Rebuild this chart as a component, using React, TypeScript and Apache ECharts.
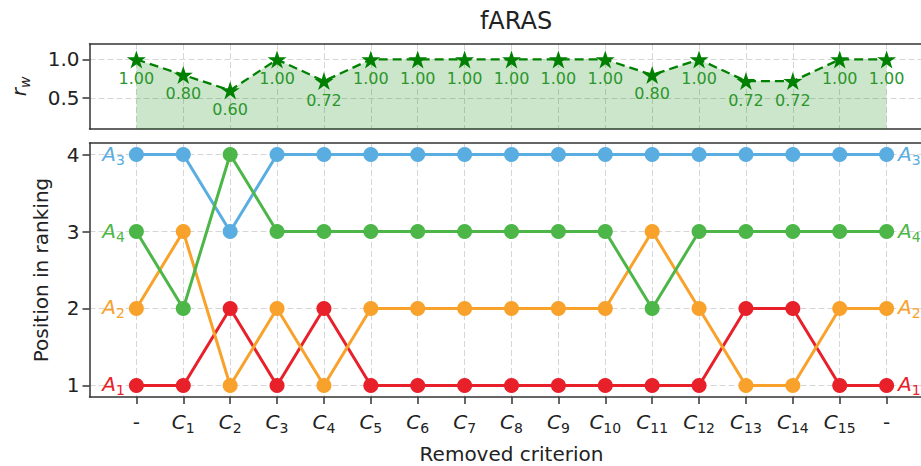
import React, { useEffect, useRef } from 'react';
import * as echarts from 'echarts';

const criteria = ['-', 'C1', 'C2', 'C3', 'C4', 'C5', 'C6', 'C7', 'C8', 'C9', 'C10', 'C11', 'C12', 'C13', 'C14', 'C15', '-'];
const rwValues = [1.0, 0.8, 0.6, 1.0, 0.72, 1.0, 1.0, 1.0, 1.0, 1.0, 1.0, 0.8, 1.0, 0.72, 0.72, 1.0, 1.0];
const rankA1 = [1, 1, 2, 1, 2, 1, 1, 1, 1, 1, 1, 1, 1, 2, 2, 1, 1];
const rankA2 = [2, 3, 1, 2, 1, 2, 2, 2, 2, 2, 2, 3, 2, 1, 1, 2, 2];
const rankA3 = [4, 4, 3, 4, 4, 4, 4, 4, 4, 4, 4, 4, 4, 4, 4, 4, 4];
const rankA4 = [3, 2, 4, 3, 3, 3, 3, 3, 3, 3, 3, 2, 3, 3, 3, 3, 3];
const alternatives = ['A1', 'A2', 'A3', 'A4'];
const altColors = ['#e8202a', '#f8a22c', '#5aade0', '#4cb648'];
const rwTicks = [0.5, 1.0];
const rankTicks = [1, 2, 3, 4];
const xTicks = criteria.map((_, i) => i);

const FONT = 'DejaVu Sans';
const STAR = 'path://M50,0 L61.2,34.5 L97.6,34.5 L68.2,55.9 L79.4,90.5 L50,69.1 L20.6,90.5 L31.8,55.9 L2.4,34.5 L38.8,34.5 Z';

const sub = (name: string) => {
  const m = name.match(/^([A-Za-z])(\d+)$/);
  return m ? `{i|${m[1]}}{s|${m[2]}}` : `{p|${name}}`;
};

const richFor = (color: string) => ({
  i: { fontFamily: FONT, fontStyle: 'italic', fontSize: 20, color, verticalAlign: 'bottom', padding: [0, 0, 3, 0], lineHeight: 24 },
  s: { fontFamily: FONT, fontSize: 14, color, verticalAlign: 'bottom', lineHeight: 24 },
  p: { fontFamily: FONT, fontSize: 20, color, verticalAlign: 'bottom', padding: [0, 0, 3, 0], lineHeight: 24 },
});

export default function App() {
  const ref = useRef<HTMLDivElement>(null);
  useEffect(() => {
    document.body.style.margin = '0';
    if (!ref.current) return;
    const chart = echarts.init(ref.current, null, { renderer: 'svg' });
    const ranks = [rankA1, rankA2, rankA3, rankA4];
    const gridLine = { show: true, lineStyle: { color: '#d6d6d6', type: [6, 3] as any, width: 1 } };
    const frame = { show: true, onZero: false, lineStyle: { color: '#333', width: 1.5 } };
    const tick = { show: true, length: 7, lineStyle: { color: '#333', width: 1.5 } };
    const option: any = {
      animation: false,
      backgroundColor: '#fff',
      title: {
        text: 'fARAS',
        left: 511,
        top: 4,
        textAlign: 'center',
        textStyle: { fontFamily: FONT, fontSize: 24, fontWeight: 'normal', color: '#222' },
      },
      grid: [
        { left: 89.5, top: 44, width: 844, height: 85, show: false, outerBoundsMode: 'none', containLabel: false },
        { left: 89.5, top: 143, width: 844, height: 254, show: false, outerBoundsMode: 'none', containLabel: false },
      ],
      xAxis: [
        {
          type: 'value', gridIndex: 0, min: -1, max: 17, interval: 1, position: 'bottom',
          axisLine: frame, axisTick: { show: false, customValues: xTicks },
          axisLabel: { show: false, customValues: xTicks },
          splitLine: gridLine,
        },
        {
          type: 'value', gridIndex: 0, min: -1, max: 17, position: 'top',
          axisLine: frame, axisTick: { show: false }, axisLabel: { show: false }, splitLine: { show: false },
        },
        {
          type: 'value', gridIndex: 1, min: -1, max: 17, interval: 1, position: 'bottom',
          name: 'Removed criterion', nameLocation: 'middle', nameGap: 47,
          nameTextStyle: { fontFamily: FONT, fontSize: 20, lineHeight: 20, color: '#222' },
          axisLine: frame,
          axisTick: { ...tick, customValues: xTicks },
          axisLabel: {
            show: true, customValues: xTicks, margin: 14,
            formatter: (v: number) => (criteria[Math.round(v)] !== undefined ? sub(criteria[Math.round(v)]) : ''),
            rich: richFor('#222'),
          },
          splitLine: gridLine,
        },
        {
          type: 'value', gridIndex: 1, min: -1, max: 17, position: 'top',
          axisLine: frame, axisTick: { show: false }, axisLabel: { show: false }, splitLine: { show: false },
        },
      ],
      yAxis: [
        {
          type: 'value', gridIndex: 0, min: 0.1, max: 1.2, position: 'left',
          name: '{r|r}{w|w}', nameLocation: 'middle', nameGap: 58, nameRotate: 90,
          nameTextStyle: {
            rich: {
              r: { fontFamily: FONT, fontStyle: 'italic', fontSize: 20, color: '#222', verticalAlign: 'bottom', padding: [0, 0, 3, 0], lineHeight: 24 },
              w: { fontFamily: FONT, fontStyle: 'italic', fontSize: 14, color: '#222', verticalAlign: 'bottom', lineHeight: 24 },
            },
          },
          axisLine: frame,
          axisTick: { ...tick, customValues: rwTicks },
          axisLabel: { show: true, customValues: rwTicks, margin: 10, formatter: (v: number) => v.toFixed(1), fontFamily: FONT, fontSize: 20, color: '#222' },
          splitLine: gridLine,
        },
        {
          type: 'value', gridIndex: 1, min: 0.85, max: 4.15, position: 'left',
          name: 'Position in ranking', nameLocation: 'middle', nameGap: 39, nameRotate: 90,
          nameTextStyle: { fontFamily: FONT, fontSize: 20, color: '#222' },
          axisLine: frame,
          axisTick: { ...tick, customValues: rankTicks },
          axisLabel: { show: true, customValues: rankTicks, margin: 10, formatter: (v: number) => String(v), fontFamily: FONT, fontSize: 20, color: '#222' },
          splitLine: gridLine,
        },
      ],
      series: [
        {
          type: 'line', xAxisIndex: 0, yAxisIndex: 0, silent: true,
          data: rwValues.map((v, i) => [i, v]),
          symbol: STAR, symbolSize: 19, symbolKeepAspect: true,
          itemStyle: { color: '#008000' },
          lineStyle: { color: '#008000', width: 2.3, type: [9, 5] },
          areaStyle: { color: 'rgba(0,128,0,0.2)', opacity: 1, origin: 'start' },
          label: {
            show: true, position: 'bottom', distance: 2,
            formatter: (p: any) => p.value[1].toFixed(2),
            fontFamily: FONT, fontSize: 16, color: '#2b962b',
          },
          z: 3,
        },
        ...alternatives.map((alt, k) => ({
          type: 'line', xAxisIndex: 2, yAxisIndex: 1, silent: true,
          name: alt,
          symbol: 'circle', symbolSize: 15,
          itemStyle: { color: altColors[k] },
          lineStyle: { color: altColors[k], width: 3 },
          label: { show: false, rich: richFor(altColors[k]) },
          data: ranks[k].map((v, i) => {
            const last = ranks[k].length - 1;
            if (i === 0 || i === last) {
              return {
                value: [i, v],
                label: { show: true, position: i === 0 ? 'left' : 'right', distance: 4, formatter: sub(alt), rich: richFor(altColors[k]) },
              };
            }
            return { value: [i, v] };
          }),
          z: 3 + k,
        })),
      ],
    };
    chart.setOption(option);
    return () => chart.dispose();
  }, []);
  return (
    <div style={{ width: 921, height: 466, overflow: 'hidden' }}>
      <div ref={ref} style={{ width: 950, height: 466 }} />
    </div>
  );
}
